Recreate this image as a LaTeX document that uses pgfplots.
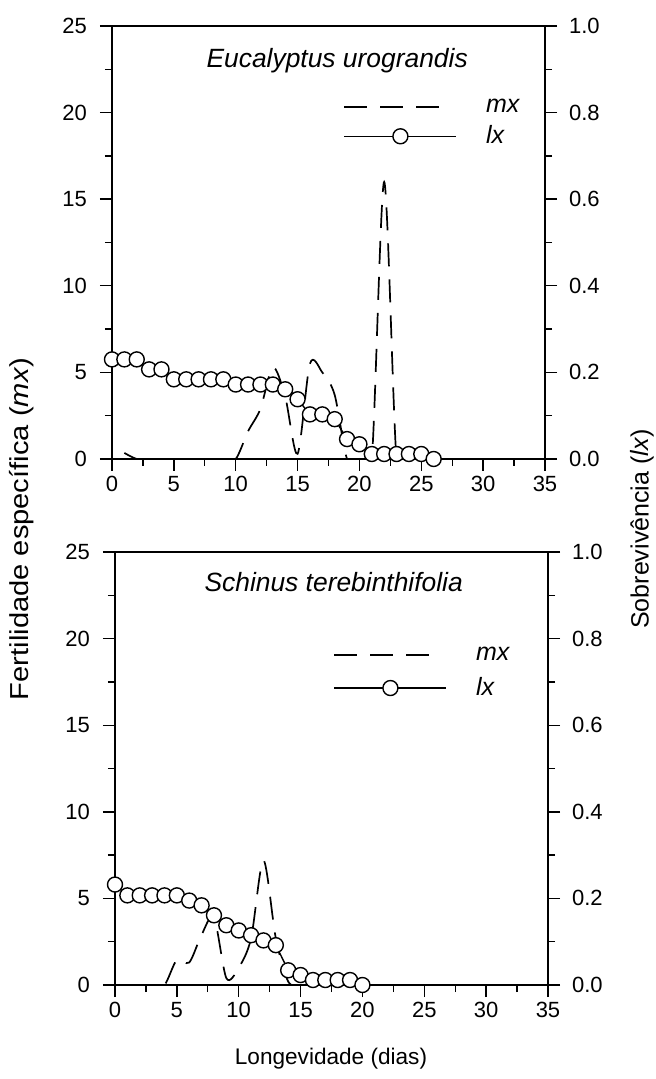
\documentclass[border=0pt]{standalone}
\usepackage{fontspec}
\setmainfont{Liberation Sans}
\usepackage{pgfplots}
\pgfplotsset{compat=1.18}

\pgfplotsset{
  panel/.style={
    scale only axis, width=216.5pt, height=216.5pt,
    xmin=0, xmax=35, ymin=0, ymax=25,
    xtick={0,5,...,35}, ytick={0,5,...,25}, minor tick num=1,
    tick align=outside, xtick pos=bottom, ytick pos=left,
    major tick length=6pt, minor tick length=3.5pt,
    axis line style={line width=0.8pt},
    every tick/.style={black, line width=0.7pt},
    tick label style={font=\fontsize{11}{12}\selectfont},
    xticklabel style={yshift=1pt},
    yticklabel style={xshift=-3pt},
    /pgf/number format/assume math mode=true,
  },
  rpanel/.style={
    scale only axis, width=216.5pt, height=216.5pt,
    xmin=0, xmax=35, ymin=0, ymax=1,
    hide x axis, axis y line*=right,
    ytick={0,0.2,0.4,0.6,0.8,1}, minor tick num=1,
    tick align=outside,
    major tick length=6pt, minor tick length=3.5pt,
    axis line style={line width=0.8pt},
    every tick/.style={black, line width=0.7pt},
    tick label style={font=\fontsize{11}{12}\selectfont},
    yticklabel style={xshift=2.5pt,
      /pgf/number format/.cd, fixed, fixed zerofill, precision=1},
    /pgf/number format/assume math mode=true,
    legend cell align=left,
    legend style={draw=none, fill=none, anchor=west,
      font=\fontsize{12.5}{14}\selectfont},
  },
  mxline/.style={black, line width=0.85pt, dash pattern=on 11.5pt off 6.5pt,
    smooth, no markers},
  lxline/.style={black, line width=0.7pt, mark=*, mark size=3.75pt,
    mark options={fill=white, solid}},
  mxleg/.style={legend image code/.code={\draw[##1] (0pt,0pt) -- (47.5pt,0pt);}},
  lxleg/.style={legend image code/.code={\draw[##1, mark repeat=2, mark phase=2]
    plot coordinates {(0pt,0pt) (28pt,0pt) (56pt,0pt)};}},
}

\begin{document}
\begin{tikzpicture}
\useasboundingbox (-56pt,-310pt) rectangle (271.5pt,229.5pt);

% Eucalyptus urograndis
\begin{axis}[panel]
  \addplot[mxline] coordinates {
    (1,0.35) (2,0) (3,0) (4,0) (5,0) (6,0) (7,0) (8,0) (9,0) (10,0)
    (11,1.6) (12,2.9) (13,5.3) (14,3.6) (15,0.3) (16,5.5) (17,5.0)
    (18,3.7) (19,0) (20,0) (21,0) (22,16) (23,0) (24,0) (25,0) (26,0)
  };
  \node[font=\fontsize{13.2}{15}\selectfont\itshape] at (rel axis cs:0.52,0.92)
    {Eucalyptus urograndis};
\end{axis}
\begin{axis}[rpanel, legend style={at={(0.52,0.7765)}, row sep=1.3pt}]
  \addlegendimage{mxline, mxleg}
  \addlegendentry{\hspace*{12.5pt}\textit{mx}}
  \addplot[lxline, lxleg] coordinates {
    (0,0.230) (1,0.230) (2,0.230) (3,0.207) (4,0.207) (5,0.184) (6,0.184)
    (7,0.184) (8,0.184) (9,0.184) (10,0.172) (11,0.172) (12,0.172)
    (13,0.172) (14,0.161) (15,0.138) (16,0.103) (17,0.103) (18,0.092)
    (19,0.046) (20,0.034) (21,0.0115) (22,0.0115) (23,0.0115)
    (24,0.0115) (25,0.0115) (26,0)
  };
  \addlegendentry{\hspace*{12.5pt}\textit{lx}}
\end{axis}

% Schinus terebinthifolia
\begin{axis}[panel, at={(1.5pt,-263pt)}]
  \addplot[mxline, dash phase=10pt] coordinates {
    (0,0) (1,0) (2,0) (3,0) (4,0) (5,1.45) (6,1.3) (7,2.9) (8,3.9)
    (9,0.4) (10,1.0) (11,2.7) (12,7.2) (13,2.7) (14,0.2) (15,0)
    (16,0) (17,0) (18,0) (19,0) (20,0)
  };
  \node[font=\fontsize{13.2}{15}\selectfont\itshape] at (rel axis cs:0.505,0.93)
    {Schinus terebinthifolia};
\end{axis}
\begin{axis}[rpanel, at={(1.5pt,-263pt)}, legend style={at={(0.49,0.721)}, row sep=3pt}]
  \addlegendimage{mxline, mxleg}
  \addlegendentry{\hspace*{12.5pt}\textit{mx}}
  \addplot[lxline, lxleg] coordinates {
    (0,0.232) (1,0.207) (2,0.207) (3,0.207) (4,0.207) (5,0.207) (6,0.195)
    (7,0.184) (8,0.161) (9,0.138) (10,0.126) (11,0.115) (12,0.103)
    (13,0.092) (14,0.034) (15,0.023) (16,0.0115) (17,0.0115) (18,0.0115)
    (19,0.0115) (20,0)
  };
  \addlegendentry{\hspace*{12.5pt}\textit{lx}}
\end{axis}

% shared axis titles
\node[rotate=90, font=\fontsize{13}{15}\selectfont] at (-45pt,-35pt)
  {\scalebox{1.12}[1]{Fertilidade específica (\textit{mx})}};
\node[rotate=90, font=\fontsize{12.5}{14}\selectfont] at (265pt,-35pt)
  {Sobrevivência (\textit{lx})};
\node[font=\fontsize{11.3}{13}\selectfont] at (109.5pt,-300pt)
  {Longevidade (dias)};
\end{tikzpicture}
\end{document}
